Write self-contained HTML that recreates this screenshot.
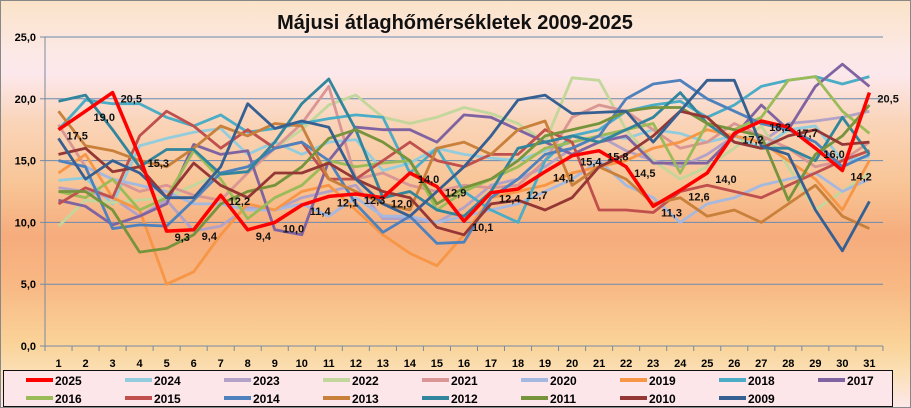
<!DOCTYPE html>
<html><head><meta charset="utf-8"><style>
body{margin:0;width:911px;height:408px;overflow:hidden;font-family:"Liberation Sans",sans-serif}
#c{position:absolute;left:0;top:0;width:909px;height:406px;border:1px solid #888;
background:linear-gradient(#fbe3c8 0%,#fce8e4 12%,#fce8ec 18%,#fad4b8 30%,#f8c596 45%,#f6ac7c 58%,#f8b884 70%,#fad49a 85%,#fbe0b8 92%,#fde8ea 100%)}
</style></head><body><div id="c"></div>
<svg id="s" width="911" height="408" style="position:absolute;left:0;top:0" font-family="Liberation Sans, sans-serif"></svg>
<script>
const X0=45,W=27.03,Y0=346,K=12.36;
const px=d=>X0+W*(d-0.5), py=v=>Y0-v*K;
let h='<text x="455" y="29" font-size="20" font-weight="bold" text-anchor="middle" fill="#111">Májusi átlaghőmérsékletek 2009-2025</text>';
for(let v=0;v<=25;v+=5){const y=py(v);if(v>0)h+=`<line x1="45" x2="883" y1="${y}" y2="${y}" stroke="#6a8ab0" stroke-width="1"/>`;
h+=`<text x="36" y="${y+4}" font-size="11" font-weight="bold" text-anchor="end">${v},0</text><line x1="40" x2="45" y1="${y}" y2="${y}" stroke="#7a8aa0"/>`;}
h+=`<line x1="45" x2="45" y1="37" y2="346" stroke="#7a8aa0"/><line x1="45" x2="883" y1="346" y2="346" stroke="#7a8aa0"/>`;
for(let d=0;d<=31;d++){const x=X0+W*d;h+=`<line x1="${x}" x2="${x}" y1="346" y2="351" stroke="#7a8aa0"/>`;if(d>0)h+=`<text x="${px(d)}" y="367" font-size="11" font-weight="bold" text-anchor="middle">${d}</text>`;}
const S=[
["2024","#93cddd",[13.4,13.6,11.5,16.2,16.8,17.3,17.6,15.5,16.5,15.5,16.5,16.7,14.2,14.8,16.0,15.5,15.2,15.0,15.8,16.5,17.0,16.8,17.5,17.2,16.5,17.0,16.0,17.5,17.8,15.0,15.3]],
["2023","#b3a2c7",[12.8,12.5,12.0,10.5,11.8,9.3,9.7,11.2,11.0,12.0,12.5,13.0,10.3,10.3,10.0,11.2,13.0,13.5,14.5,16.0,17.0,15.8,15.0,14.5,15.5,17.0,16.5,18.0,18.2,18.5,19.0]],
["2022","#c3d69b",[9.7,11.8,11.6,11.8,12.0,13.0,14.0,14.5,16.0,17.5,19.5,20.3,18.5,18.0,18.5,19.3,18.8,18.0,16.5,21.7,21.5,17.5,15.0,13.5,14.5,16.0,17.8,14.5,11.0,12.5,14.0]],
["2021","#d99694",[17.9,14.5,13.5,12.5,13.0,12.2,11.8,14.0,16.0,18.0,21.0,13.5,14.0,13.0,12.5,13.0,12.8,13.0,15.0,18.5,19.5,19.0,17.5,16.0,16.5,18.0,17.0,16.0,14.5,15.0,16.5]],
["2020","#a5b9e0",[15.0,14.5,13.5,13.0,12.5,11.5,11.5,11.0,11.0,11.5,10.5,12.0,10.5,10.5,10.0,10.5,11.0,11.5,12.5,13.5,15.0,13.0,12.0,10.0,11.5,12.0,13.0,13.5,14.0,12.5,13.5]],
["2019","#f79646",[14.0,15.5,12.0,11.0,5.0,6.0,9.0,11.5,11.0,12.5,13.0,11.0,9.0,7.5,6.5,9.0,12.0,12.5,13.0,14.0,14.5,15.0,16.0,16.5,17.5,17.0,16.5,15.0,13.5,11.0,15.0]],
["2018","#4bacc6",[17.5,19.9,19.6,19.6,18.5,17.8,18.7,17.3,17.6,18.0,18.4,18.7,18.5,14.0,16.0,12.5,11.0,10.0,15.0,17.0,17.5,19.0,19.5,19.8,18.5,19.5,21.0,21.5,21.8,21.2,21.8]],
["2017","#8064a2",[11.8,11.3,9.8,10.5,11.5,16.3,15.5,15.8,9.4,9.0,15.0,17.7,17.5,17.5,16.5,18.7,18.5,17.5,16.5,15.5,16.5,17.0,14.8,14.8,14.8,17.0,19.5,17.5,21.0,22.8,21.0]],
["2016","#9bbb59",[12.5,12.0,13.5,11.0,12.0,15.8,13.5,10.3,12.0,13.0,15.0,14.5,14.8,15.0,11.0,12.5,13.5,14.5,16.0,16.5,17.0,17.5,18.0,14.0,18.0,17.5,18.5,21.5,21.8,19.0,17.2]],
["2015","#c0504d",[11.5,12.8,12.0,17.0,19.0,17.8,16.0,17.5,16.0,16.5,13.5,13.5,15.0,16.5,15.0,14.5,15.5,15.5,17.5,16.5,11.0,11.0,10.8,12.5,13.0,12.5,12.0,13.0,14.0,15.0,15.8]],
["2014","#4f81bd",[15.0,14.5,9.5,9.8,9.7,11.8,14.0,14.5,16.0,16.5,15.0,11.5,9.2,10.5,8.3,8.4,12.0,13.5,15.5,16.0,17.0,20.0,21.2,21.5,20.0,19.0,18.0,17.5,16.5,14.5,15.5]],
["2013","#c9803a",[19.0,16.2,15.8,15.0,14.5,16.0,17.8,17.0,18.0,17.8,13.5,12.5,11.5,11.0,16.0,16.5,15.5,17.5,18.2,13.0,14.5,13.5,11.5,12.0,10.5,11.0,10.0,11.5,13.0,10.5,9.5]],
["2012","#31859c",[19.8,20.3,17.5,14.5,15.9,15.9,13.9,14.1,16.5,19.6,21.6,17.5,12.0,12.5,11.0,10.5,12.5,16.0,16.5,17.0,16.5,17.5,18.5,20.5,18.0,16.5,16.0,16.0,15.0,18.5,15.5]],
["2011","#77933c",[12.5,12.5,11.0,7.6,7.9,9.0,11.5,12.5,13.0,14.5,16.8,17.5,16.5,15.0,11.5,12.8,13.5,15.0,17.0,17.5,18.0,19.0,19.3,19.3,18.0,17.5,17.0,11.8,15.5,17.0,19.5]],
["2010","#953735",[15.5,16.0,14.1,14.5,12.0,14.8,13.0,12.0,14.0,14.0,14.8,13.5,12.5,12.0,9.6,9.0,11.5,11.8,11.0,12.0,14.5,15.5,17.0,19.0,18.5,16.5,16.0,17.0,17.5,16.3,16.5]],
["2009","#376092",[16.8,13.5,15.0,14.0,12.0,12.0,14.5,19.6,17.6,18.2,17.7,13.5,11.5,10.5,12.5,14.5,17.0,19.9,20.3,18.8,18.9,19.0,16.5,19.0,21.5,21.5,16.2,15.5,11.0,7.7,11.7]],
];
const red=[17.5,19.0,20.5,15.3,9.3,9.4,12.2,9.4,10.0,11.4,12.1,12.3,12.0,14.0,12.9,10.1,12.4,12.7,14.1,15.4,15.8,14.5,11.3,12.6,14.0,17.2,18.2,17.7,16.0,14.2,20.5];
const pl=(a,c,w)=>`<polyline fill="none" stroke="${c}" stroke-width="${w}" stroke-linejoin="round" points="${a.map((v,i)=>px(i+1).toFixed(1)+','+py(v).toFixed(1)).join(' ')}"/>`;
S.forEach(s=>h+=pl(s[2],s[1],2.8));
h+=pl(red,"#ff0000",3.5);
red.forEach((v,i)=>h+=`<text x="${px(i+1)+8}" y="${py(v)+10}" font-size="11" font-weight="bold" fill="#111">${v.toFixed(1).replace('.',',')}</text>`);
// legend
h+=`<rect x="3.5" y="370.5" width="889" height="36" fill="#fde6ea" stroke="#111"/>`;
const L=[["2025","#ff0000"]].concat(S.map(s=>[s[0],s[1]]));
L.forEach((l,i)=>{const r=i<9?0:1,c=i<9?i:i-9;const x=26+c*99,y=r?398:380;
h+=`<line x1="${x}" x2="${x+27}" y1="${y}" y2="${y}" stroke="${l[1]}" stroke-width="4"/><text x="${x+29}" y="${y+5}" font-size="12" font-weight="bold">${l[0]}</text>`;});
document.getElementById('s').innerHTML=h;
</script></body></html>
